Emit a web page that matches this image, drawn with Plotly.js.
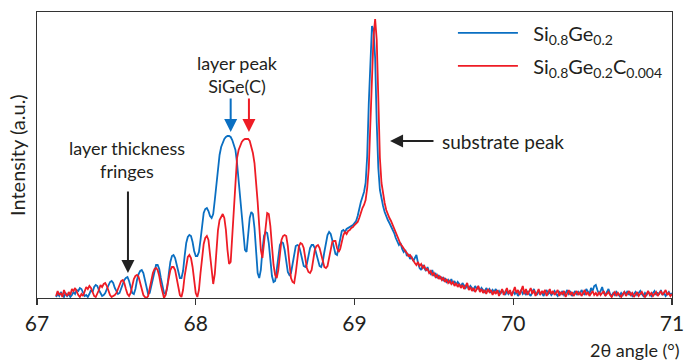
<!DOCTYPE html>
<html>
<head>
<meta charset="utf-8">
<script src="https://cdn.plot.ly/plotly-3.0.1.min.js"></script>
<style>html,body{margin:0;padding:0;background:#fff;}#chart{width:686px;height:363px;}</style>
</head>
<body>
<div id="chart"></div>
<script>
// Sampling grid of the scans (2θ, degrees): first angle and step
const angleStart = 67.12;
const angleStep = 0.01;

// Intensity (a.u.) of Si0.8Ge0.2, one value per step from 67.12 to 71.00
const intensitySiGe = [
  1,4,2,6,3,1,5,2,                       // 67.12-67.19
  4,1,3,6,4,8,7,10,9,5,                  // 67.20
  2,3,1,4,8,6,11,13,12,8,                // 67.30
  4,2,3,5,9,13,16,17,15,10,              // 67.40
  6,4,5,10,15,18,20,21,17,10,            // 67.50
  5,4,9,18,24,27,28,25,17,9,             // 67.60
  4,5,12,22,29,33,33,29,20,11,           // 67.70
  5,4,10,24,36,42,43,40,33,25,           // 67.80
  20,20,27,42,55,61,63,62,56,47,         // 67.90
  42,42,46,58,74,85,89,90,87,82,         // 68.00
  80,84,98,115,130,143,151,156,159,161,  // 68.10
  162,162,161,158,154,148,135,118,100,82,// 68.20
  62,48,46,62,80,86,84,70,45,25,         // 68.30
  20,28,48,62,66,65,55,38,22,16,         // 68.40
  17,28,44,53,56,55,48,36,26,23,         // 68.50
  25,34,45,52,53,52,46,38,32,31,         // 68.60
  34,42,50,53,53,50,43,36,32,31,         // 68.70
  36,46,56,63,66,64,58,50,44,43,         // 68.80
  50,60,67,68,66,69,70,71,72,73,         // 68.90
  75,77,82,90,96,101,106,115,142,195,    // 69.00
  245,272,268,240,175,130,108,99,92,86,  // 69.10
  81,78,75,72,68,65,60,57,53,55,         // 69.20
  49,46,48,42,44,39,41,37,40,43,         // 69.30
  35,30,28,33,30,27,31,26,24,28,         // 69.40
  22,25,20,23,19,21,17,20,16,18,         // 69.50
  15,19,14,17,13,16,14,11,15,12,         // 69.60
  10,13,9,12,10,8,12,9,11,7,             // 69.70
  10,8,6,10,7,9,5,8,6,9,                 // 69.80
  5,7,4,8,5,3,7,4,6,3,                   // 69.90
  7,4,6,2,5,8,4,6,3,7,                   // 70.00
  4,2,6,9,5,3,7,4,6,2,                   // 70.10
  5,8,4,6,3,5,7,4,2,6,                   // 70.20
  4,7,3,5,8,4,6,2,5,7,                   // 70.30
  3,6,4,8,5,3,9,6,4,10,                  // 70.40
  7,12,13,8,4,7,11,5,3,6,                // 70.50
  9,4,2,5,3,6,4,2,5,3,                   // 70.60
  6,4,7,3,5,2,4,6,3,5,                   // 70.70
  7,4,2,5,3,6,4,2,5,7,                   // 70.80
  3,5,4,8,3,5,2,4,6,3,                   // 70.90
  5                                      // 71.00
];

// Intensity (a.u.) of Si0.8Ge0.2C0.004, same grid
const intensitySiGeC = [
  2,7,3,5,1,8,4,2,                       // 67.12-67.19
  6,3,9,7,10,6,3,1,4,2,                  // 67.20
  7,11,9,12,10,5,2,1,4,8,                // 67.30
  13,11,14,15,12,7,3,1,2,3,              // 67.40
  5,9,14,17,18,15,9,4,2,5,               // 67.50
  12,19,22,23,21,15,8,3,1,0,             // 67.60
  2,10,19,25,29,30,28,22,13,5,           // 67.70
  0,3,12,22,28,31,31,28,20,10,           // 67.80
  3,1,8,22,34,41,43,40,31,17,            // 67.90
  5,1,8,25,42,54,60,62,58,44,            // 68.00
  25,14,24,48,68,78,82,84,80,68,         // 68.10
  48,34,36,62,98,125,140,148,153,156,    // 68.20
  158,159,159,159,157,152,145,135,118,96,// 68.30
  72,48,40,55,75,85,84,72,52,33,         // 68.40
  23,20,28,45,58,62,63,62,52,35,         // 68.50
  20,16,15,25,42,52,55,54,50,40,         // 68.60
  30,26,25,28,38,48,52,53,50,44,         // 68.70
  36,31,30,32,40,50,56,57,57,50,         // 68.80
  46,49,58,63,66,64,67,68,70,71,         // 68.90
  73,75,76,80,86,90,93,98,110,130,       // 69.00
  175,225,262,279,258,200,140,115,103,95,// 69.10
  88,83,80,77,73,68,64,61,58,54,         // 69.20
  52,49,47,45,42,43,40,38,35,33,         // 69.30
  36,32,34,30,32,28,29,25,27,23,         // 69.40
  25,21,23,19,22,18,20,16,19,15,         // 69.50
  17,14,16,12,15,11,14,10,13,9,          // 69.60
  12,15,8,11,7,10,6,9,12,6,              // 69.70
  9,5,8,4,9,6,8,3,7,4,                   // 69.80
  8,2,6,9,3,7,10,4,8,2,                  // 69.90
  6,11,5,8,3,7,12,4,9,3,                 // 70.00
  7,10,4,8,2,6,9,3,7,5,                  // 70.10
  8,2,6,9,4,7,3,5,8,2,                   // 70.20
  6,4,7,1,5,8,3,6,2,5,                   // 70.30
  7,3,6,2,5,8,3,6,2,4,                   // 70.40
  7,3,5,2,6,3,5,7,2,4,                   // 70.50
  6,3,1,4,6,2,5,3,1,4,                   // 70.60
  6,2,4,7,3,5,1,3,6,2,                   // 70.70
  4,6,3,1,4,7,3,5,2,4,                   // 70.80
  6,2,4,7,3,5,8,3,5,2,                   // 70.90
  4                                      // 71.00
];

const tickValues = [67, 68, 69, 70, 71];
const tickLabels = ['67', '68', '69', '70', '71'];
const seriesNames = ['&nbsp;&nbsp;Si<sub>0.8</sub>Ge<sub>0.2</sub>', '&nbsp;&nbsp;Si<sub>0.8</sub>Ge<sub>0.2</sub>C<sub>0.004</sub>'];

const angles = intensitySiGe.map((_, i) => +(angleStart + i * angleStep).toFixed(2));

const FONT = 'Lato, "Open Sans", sans-serif';
const INK = '#231f20';
const BLUE = '#0a6fc2';
const RED = '#ee1c25';

const traces = [
  {x: angles, y: intensitySiGe, type: 'scatter', mode: 'lines', name: seriesNames[0], legendgroup: 'a',
   line: {color: BLUE, width: 1.8}},
  {x: angles, y: intensitySiGeC, type: 'scatter', mode: 'lines', name: seriesNames[1], legendgroup: 'b',
   line: {color: RED, width: 1.8}}
];

const arrow = (x, y, ax, ay, color) => ({
  x: x, y: y, ax: ax, ay: ay, xref: 'x', yref: 'y', axref: 'x', ayref: 'y',
  text: '', showarrow: true, arrowhead: 2, arrowsize: 1.3, arrowwidth: 2, arrowcolor: color
});

const layout = {
  width: 686, height: 363,
  margin: {l: 37, r: 14, t: 12, b: 65},
  paper_bgcolor: '#fff', plot_bgcolor: '#fff',
  font: {family: FONT, color: INK, size: 19},
  showlegend: true,
  legend: {x: 0.655, y: 0.995, xanchor: 'left', yanchor: 'top', bgcolor: 'rgba(0,0,0,0)',
           font: {family: FONT, size: 20, color: INK}, itemwidth: 60, tracegroupgap: 4},
  xaxis: {range: [67, 71], tickvals: tickValues, ticktext: tickLabels,
          ticks: 'outside', ticklen: 6, tickwidth: 1.3, tickcolor: '#333',
          showline: true, linecolor: '#333', linewidth: 1.3, mirror: true,
          showgrid: false, zeroline: false, tickfont: {size: 21, color: INK, family: FONT}},
  yaxis: {range: [0, 286], showticklabels: false, ticks: '', showline: true,
          linecolor: '#333', linewidth: 1.3, mirror: true, showgrid: false, zeroline: false},
  annotations: [
    {xref: 'paper', yref: 'paper', x: 1.0157, y: -0.182, xanchor: 'right', yanchor: 'middle',
     text: '2θ angle (°)', showarrow: false, font: {size: 18}},
    {xref: 'paper', yref: 'paper', x: -0.0315, y: 0.5, xanchor: 'center', yanchor: 'middle',
     text: 'Intensity (a.u.)', textangle: -90, showarrow: false, font: {size: 20}},
    {xref: 'x', yref: 'y', x: 68.265, y: 224, text: 'layer peak<br>SiGe(C)', showarrow: false,
     align: 'center', font: {size: 18}},
    {xref: 'x', yref: 'y', x: 67.57, y: 139, text: 'layer thickness<br>fringes', showarrow: false,
     align: 'center', font: {size: 18}},
    {xref: 'x', yref: 'y', x: 69.54, y: 157, text: 'substrate peak', showarrow: false, xanchor: 'left', font: {size: 19}},
    arrow(68.22, 166, 68.22, 201, BLUE),
    arrow(68.335, 166, 68.335, 201, RED),
    arrow(67.573, 25, 67.573, 108, '#222'),
    arrow(69.224, 157, 69.507, 157, '#222')
  ]
};

Plotly.newPlot('chart', traces, layout, {displayModeBar: false, staticPlot: true});
</script>
</body>
</html>
